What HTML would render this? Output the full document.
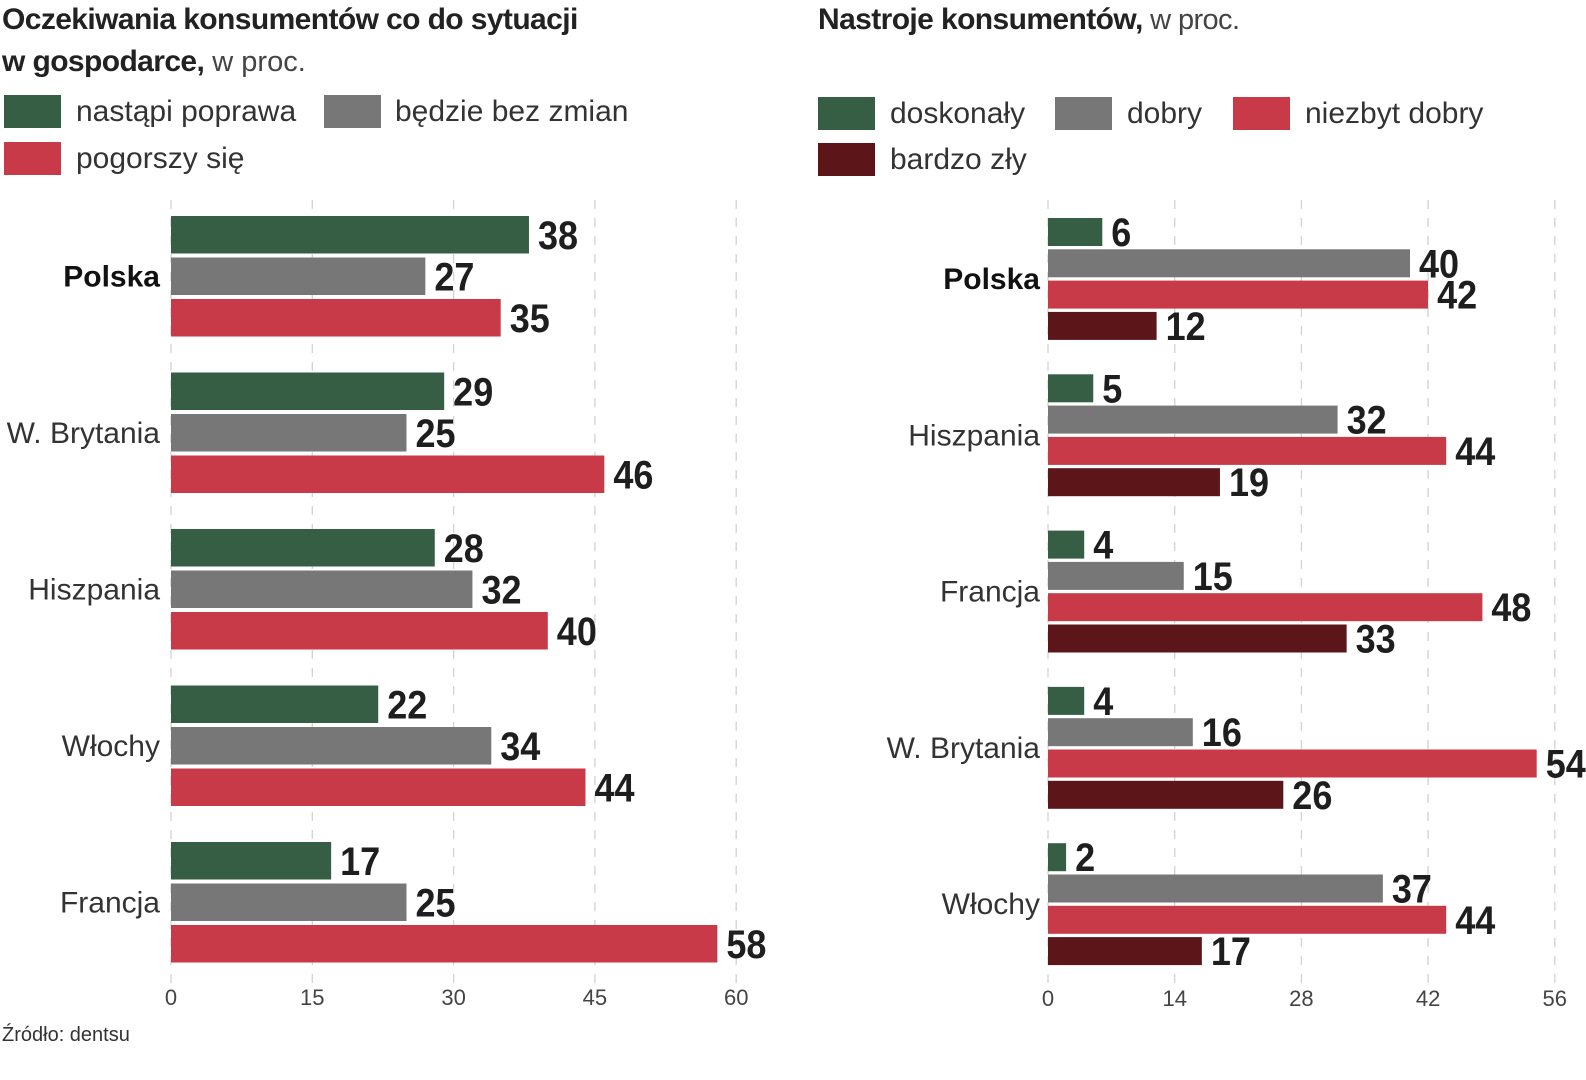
<!DOCTYPE html>
<html><head><meta charset="utf-8">
<style>
html,body{margin:0;padding:0;background:#fff;width:1586px;height:1080px;overflow:hidden}
svg{display:block}
text{font-family:"Liberation Sans",sans-serif;fill:#222}
.t{font-weight:bold;font-size:30px;letter-spacing:-0.6px}
.tl{font-weight:normal;font-size:29px;fill:#444}
.lg{font-size:30px;fill:#333}
.cat{font-size:30px;fill:#333}
.val{font-family:"Liberation Sans Narrow","Liberation Sans",sans-serif;font-weight:bold;font-size:40px;fill:#1e1e1e}
.tick{font-size:22px;fill:#444}
</style></head><body>
<svg id="svg" width="1586" height="1080" viewBox="0 0 1586 1080">
<text class="t" x="2" y="29">Oczekiwania konsumentów co do sytuacji</text>
<text x="2" y="71"><tspan class="t">w gospodarce,</tspan><tspan class="tl"> w proc.</tspan></text>
<g>
<rect x="4" y="95" width="57" height="33" fill="#355e45"/>
<text class="lg" x="76" y="121">nastąpi poprawa</text>
<rect x="324" y="95" width="57" height="33" fill="#777"/>
<text class="lg" x="395" y="121">będzie bez zmian</text>
<rect x="4" y="142" width="57" height="33" fill="#c83a47"/>
<text class="lg" x="76" y="168">pogorszy się</text>
</g>
<text class="t" x="818" y="29">Nastroje konsumentów,<tspan class="tl"> w proc.</tspan></text>
<g>
<rect x="818" y="97" width="57" height="33" fill="#355e45"/>
<text class="lg" x="890" y="123">doskonały</text>
<rect x="1055" y="97" width="57" height="33" fill="#777"/>
<text class="lg" x="1127" y="123">dobry</text>
<rect x="1233" y="97" width="57" height="33" fill="#c83a47"/>
<text class="lg" x="1305" y="123">niezbyt dobry</text>
<rect x="818" y="143" width="57" height="33" fill="#5c1519"/>
<text class="lg" x="890" y="169">bardzo zły</text>
</g>
<text x="2" y="1041" style="font-size:20px;fill:#333">Źródło: dentsu</text>
<g id="L"></g>
<g id="R"></g>
</svg>
<script>
const leftCats = ["Polska","W. Brytania","Hiszpania","Włochy","Francja"];
const leftPoprawa = [38,29,28,22,17];
const leftBezZmian = [27,25,32,34,25];
const leftPogorszy = [35,46,40,44,58];
const leftTicks = [0,15,30,45,60];

const rightCats = ["Polska","Hiszpania","Francja","W. Brytania","Włochy"];
const rightDoskonaly = [6,5,4,4,2];
const rightDobry = [40,32,15,16,37];
const rightNiezbyt = [42,44,48,54,44];
const rightBardzoZly = [12,19,33,26,17];
const rightTicks = [0,14,28,42,56];

const NS="http://www.w3.org/2000/svg";
function mk(tag,attrs,parent,txt){const e=document.createElementNS(NS,tag);for(const k in attrs)e.setAttribute(k,attrs[k]);if(txt!=null)e.textContent=txt;parent.appendChild(e);return e;}

function draw(g,cfg){
  const x=v=>cfg.x0+v*cfg.k;
  cfg.ticks.forEach(t=>{
    const l=mk('line',{x1:x(t),x2:x(t),y1:cfg.gTop,y2:cfg.gBot,stroke:'#d2d2d2','stroke-width':1.3,'stroke-dasharray':'9 9'},g);
    
    
    const tx=mk('text',{x:x(t),y:cfg.tickY,'text-anchor':'middle',class:'tick'},g,String(t));
    
    
  });
  cfg.cats.forEach((c,i)=>{
    const top=cfg.y0+i*cfg.groupStep;
    const n=cfg.series.length;
    const mid=top+((n-1)*cfg.barStep+cfg.barH)/2;
    const ct=mk('text',{x:cfg.labelX,y:mid+10,'text-anchor':'end',class:'cat'},g,c);
    if(c==='Polska'){ct.setAttribute('font-weight','bold');ct.style.fill='#111';}
    
    
    cfg.series.forEach((s,j)=>{
      const v=s.data[i];
      const y=top+j*cfg.barStep;
      const r=mk('rect',{x:x(0),y:y,width:v*cfg.k,height:cfg.barH,fill:s.color},g);
      
      
      const vt=mk('text',{x:0,y:0,class:'val',transform:'translate('+(x(v)+9)+','+(y+cfg.barH/2+14)+') scale(0.9,1)'},g,String(v));
      
      
    });
  });
}
draw(document.getElementById('L'),{
  x0:171,k:9.42,ticks:leftTicks,gTop:200,gBot:985,tickY:1005,
  cats:leftCats,y0:216,groupStep:156.5,barStep:41.5,barH:37.5,labelX:160,
  series:[{name:'poprawa',color:'#355e45',data:leftPoprawa},{name:'bez-zmian',color:'#777777',data:leftBezZmian},{name:'pogorszy',color:'#c83a47',data:leftPogorszy}]
});
draw(document.getElementById('R'),{
  x0:1048,k:9.05,ticks:rightTicks,gTop:200,gBot:985,tickY:1006,
  cats:rightCats,y0:218,groupStep:156.3,barStep:31.3,barH:28,labelX:1040,
  series:[{name:'doskonaly',color:'#355e45',data:rightDoskonaly},{name:'dobry',color:'#777777',data:rightDobry},{name:'niezbyt-dobry',color:'#c83a47',data:rightNiezbyt},{name:'bardzo-zly',color:'#5c1519',data:rightBardzoZly}]
});
</script>
</body></html>
